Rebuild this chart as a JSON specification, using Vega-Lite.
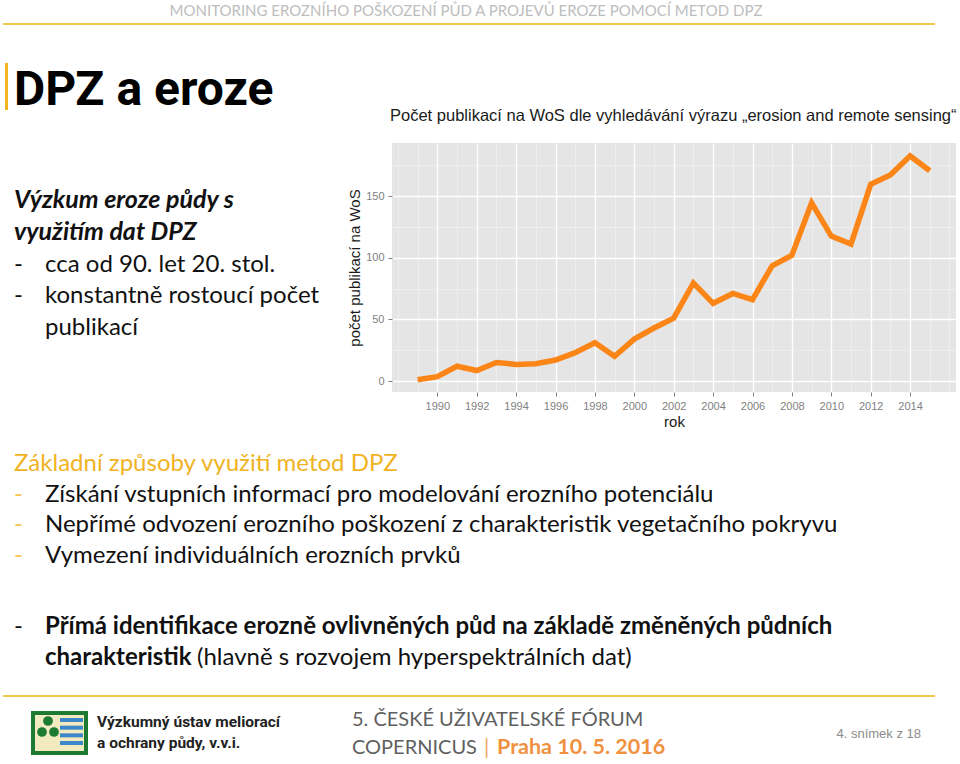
{
  "$schema": "https://vega.github.io/schema/vega-lite/v6.json",
  "background": "white",
  "padding": 0,
  "spacing": 0,
  "bounds": "flush",
  "columns": 2,
  "config": {"view": {"stroke": null}},
  "datasets": {
    "pubs": [
      {"rok": 1989, "pocet": 1}, {"rok": 1990, "pocet": 3.5}, {"rok": 1991, "pocet": 12},
      {"rok": 1992, "pocet": 8.5}, {"rok": 1993, "pocet": 15}, {"rok": 1994, "pocet": 13.5},
      {"rok": 1995, "pocet": 14}, {"rok": 1996, "pocet": 17}, {"rok": 1997, "pocet": 23},
      {"rok": 1998, "pocet": 31}, {"rok": 1999, "pocet": 20}, {"rok": 2000, "pocet": 34},
      {"rok": 2001, "pocet": 43}, {"rok": 2002, "pocet": 51}, {"rok": 2003, "pocet": 79.5},
      {"rok": 2004, "pocet": 63}, {"rok": 2005, "pocet": 71}, {"rok": 2006, "pocet": 66},
      {"rok": 2007, "pocet": 93.5}, {"rok": 2008, "pocet": 102}, {"rok": 2009, "pocet": 144.5},
      {"rok": 2010, "pocet": 117.5}, {"rok": 2011, "pocet": 111}, {"rok": 2012, "pocet": 159.5},
      {"rok": 2013, "pocet": 167}, {"rok": 2014, "pocet": 182.5}, {"rok": 2015, "pocet": 170.5}
    ],
    "top": [
      {"col": 1, "line": 0, "role": "running", "text": "MONITORING EROZNÍHO POŠKOZENÍ PŮD A PROJEVŮ EROZE POMOCÍ METOD DPZ"},
      {"col": 0, "line": 1, "role": "slide", "text": "DPZ a eroze"}
    ],
    "left": [
      {"line": 1, "col": 0, "role": "lead", "text": "Výzkum eroze půdy s"},
      {"line": 2, "col": 0, "role": "lead", "text": "využitím dat DPZ"},
      {"line": 3, "col": 0, "role": "item", "text": "-"},
      {"line": 3, "col": 1, "role": "item", "text": "cca od 90. let 20. stol."},
      {"line": 4, "col": 0, "role": "item", "text": "-"},
      {"line": 4, "col": 1, "role": "item", "text": "konstantně rostoucí počet"},
      {"line": 5, "col": 1, "role": "item", "text": "publikací"}
    ],
    "methods": [
      {"line": 1, "col": 0, "role": "heading", "text": "Základní způsoby využití metod DPZ"},
      {"line": 2, "col": 0, "role": "dash", "text": "-"},
      {"line": 2, "col": 1, "role": "item", "text": "Získání vstupních informací pro modelování erozního potenciálu"},
      {"line": 3, "col": 0, "role": "dash", "text": "-"},
      {"line": 3, "col": 1, "role": "item", "text": "Nepřímé odvození erozního poškození z charakteristik vegetačního pokryvu"},
      {"line": 4, "col": 0, "role": "dash", "text": "-"},
      {"line": 4, "col": 1, "role": "item", "text": "Vymezení individuálních erozních prvků"},
      {"line": 6, "col": 0, "role": "item", "text": "-"},
      {"line": 6, "col": 1, "role": "key", "text": "Přímá identifikace erozně ovlivněných půd na základě změněných půdních"},
      {"line": 7, "col": 1, "role": "key", "text": "charakteristik"},
      {"line": 7, "col": 2, "role": "item", "text": "(hlavně s rozvojem hyperspektrálních dat)"}
    ],
    "footer": [
      {"line": 1, "col": 0, "role": "inst", "text": "Výzkumný ústav meliorací"},
      {"line": 2, "col": 0, "role": "inst", "text": "a ochrany půdy, v.v.i."},
      {"line": 1, "col": 1, "role": "event", "text": "5. ČESKÉ UŽIVATELSKÉ FÓRUM"},
      {"line": 2, "col": 1, "role": "event", "text": "COPERNICUS"},
      {"line": 2, "col": 2, "role": "sep", "text": "|"},
      {"line": 2, "col": 3, "role": "place", "text": "Praha 10. 5. 2016"}
    ]
  },
  "concat": [
    {
      "width": 392,
      "height": 143,
      "resolve": {"scale": {"x": "independent", "y": "independent"}},
      "layer": [
        {
          "data": {"name": "top"},
          "transform": [{"filter": "datum.role == 'running'"}],
          "mark": {"type": "text", "align": "center", "baseline": "alphabetic", "font": "Lato", "fontSize": 15, "color": "#BDBDBD"},
          "encoding": {
            "x": {"field": "col", "type": "quantitative", "scale": {"domain": [0, 1], "range": [14, 466]}, "axis": null},
            "y": {"field": "line", "type": "quantitative", "scale": {"domain": [0, 1], "range": [16, 105]}, "axis": null},
            "text": {"field": "text"}
          }
        },
        {
          "data": {"name": "top"},
          "transform": [{"filter": "datum.role == 'slide'"}],
          "mark": {"type": "text", "align": "left", "baseline": "alphabetic", "font": "Roboto", "fontWeight": "bold", "fontSize": 48, "color": "#000000"},
          "encoding": {
            "x": {"field": "col", "type": "quantitative", "scale": {"domain": [0, 1], "range": [14, 466]}, "axis": null},
            "y": {"field": "line", "type": "quantitative", "scale": {"domain": [0, 1], "range": [16, 105]}, "axis": null},
            "text": {"field": "text"}
          }
        },
        {
          "data": {"values": [{"element": "header rule"}]},
          "mark": {"type": "rule", "color": "#F2C94C", "strokeWidth": 2},
          "encoding": {
            "x": {"datum": 0, "type": "quantitative", "scale": {"domain": [0, 1], "range": [3, 935]}, "axis": null},
            "x2": {"datum": 1},
            "y": {"datum": 0, "type": "quantitative", "scale": {"domain": [0, 1], "range": [24, 110]}, "axis": null}
          }
        },
        {
          "data": {"values": [{"element": "title bar"}]},
          "mark": {"type": "rule", "color": "#F2B620", "strokeWidth": 3},
          "encoding": {
            "x": {"datum": 0, "type": "quantitative", "scale": {"domain": [0, 1], "range": [6.5, 14]}, "axis": null},
            "y": {"datum": 0, "type": "quantitative", "scale": {"domain": [0, 1], "range": [63, 110]}, "axis": null},
            "y2": {"datum": 1}
          }
        }
      ]
    },
    {
      "width": 564,
      "height": 143,
      "data": {"values": []},
      "mark": "rule",
      "encoding": {}
    },
    {
      "width": 392,
      "height": 249,
      "data": {"name": "left"},
      "encoding": {
        "x": {"field": "col", "type": "quantitative", "scale": {"domain": [0, 1], "range": [14, 45]}, "axis": null},
        "y": {"field": "line", "type": "quantitative", "scale": {"domain": [1, 5], "range": [65, 192]}, "axis": null},
        "text": {"field": "text"}
      },
      "layer": [
        {
          "transform": [{"filter": "datum.role == 'lead'"}],
          "mark": {"type": "text", "align": "left", "baseline": "alphabetic", "font": "Lato", "fontSize": 25, "fontStyle": "italic", "fontWeight": "bold", "color": "#111111"}
        },
        {
          "transform": [{"filter": "datum.role == 'item'"}],
          "mark": {"type": "text", "align": "left", "baseline": "alphabetic", "font": "Lato", "fontSize": 24, "color": "#111111"}
        }
      ]
    },
    {
      "width": 564,
      "height": 249,
      "view": {"fill": "#E5E5E5", "stroke": null},
      "title": {
        "text": "Počet publikací na WoS dle vyhledávání výrazu „erosion and remote sensing“",
        "anchor": "start",
        "frame": "group",
        "font": "Liberation Sans",
        "fontSize": 16.5,
        "fontWeight": "normal",
        "color": "#1A1A1A",
        "offset": 19,
        "dx": -2
      },
      "data": {"name": "pubs"},
      "mark": {"type": "line", "color": "#FB8517", "strokeWidth": 5.5, "strokeJoin": "miter", "strokeCap": "butt"},
      "encoding": {
        "x": {
          "field": "rok",
          "type": "quantitative",
          "scale": {"domain": [1987.7, 2016.33], "nice": false, "zero": false},
          "axis": {
            "values": [1988, 1989, 1990, 1991, 1992, 1993, 1994, 1995, 1996, 1997, 1998, 1999, 2000, 2001, 2002, 2003, 2004, 2005, 2006, 2007, 2008, 2009, 2010, 2011, 2012, 2013, 2014, 2015, 2016],
            "format": "d",
            "labelExpr": "(datum.value % 2 == 0 && datum.value >= 1990 && datum.value <= 2014) ? datum.label : ''",
            "labelOverlap": false,
            "labelFont": "Liberation Sans",
            "labelFontSize": 11,
            "labelColor": "#7F7F7F",
            "labelPadding": 4,
            "domain": false,
            "ticks": true,
            "tickSize": 4,
            "tickColor": {"condition": {"test": "datum.value % 2 == 0 && datum.value >= 1990 && datum.value <= 2014", "value": "#7F7F7F"}, "value": "rgba(0,0,0,0)"},
            "grid": true,
            "gridColor": {"condition": {"test": "datum.value % 2 == 0 && datum.value >= 1990 && datum.value <= 2014", "value": "#FFFFFF"}, "value": "#F2F2F2"},
            "gridWidth": {"condition": {"test": "datum.value % 2 == 0 && datum.value >= 1990 && datum.value <= 2014", "value": 1.3}, "value": 0.7},
            "title": "rok",
            "titleFont": "Liberation Sans",
            "titleFontSize": 15,
            "titleFontWeight": "normal",
            "titleColor": "#1A1A1A",
            "titlePadding": 3
          }
        },
        "y": {
          "field": "pocet",
          "type": "quantitative",
          "scale": {"domain": [-8.9, 193], "nice": false, "zero": false},
          "axis": {
            "values": [0, 25, 50, 75, 100, 125, 150, 175],
            "labelExpr": "datum.value % 50 == 0 ? datum.label : ''",
            "labelOverlap": false,
            "labelFont": "Liberation Sans",
            "labelFontSize": 11,
            "labelColor": "#7F7F7F",
            "labelPadding": 4,
            "domain": false,
            "ticks": true,
            "tickSize": 4,
            "tickColor": {"condition": {"test": "datum.value % 50 == 0", "value": "#7F7F7F"}, "value": "rgba(0,0,0,0)"},
            "grid": true,
            "gridColor": {"condition": {"test": "datum.value % 50 == 0", "value": "#FFFFFF"}, "value": "#F2F2F2"},
            "gridWidth": {"condition": {"test": "datum.value % 50 == 0", "value": 1.3}, "value": 0.7},
            "title": "počet publikací na WoS",
            "titleFont": "Liberation Sans",
            "titleFontSize": 15,
            "titleFontWeight": "normal",
            "titleColor": "#1A1A1A",
            "titlePadding": 3
          }
        }
      }
    },
    {
      "width": 392,
      "height": 372,
      "resolve": {"scale": {"x": "independent", "y": "independent"}},
      "layer": [
        {
          "data": {"name": "methods"},
          "transform": [{"filter": "datum.role == 'heading'"}],
          "mark": {"type": "text", "align": "left", "baseline": "alphabetic", "font": "Lato", "fontSize": 24, "color": "#F0B323"},
          "encoding": {
            "x": {"field": "col", "type": "quantitative", "scale": {"domain": [0, 1, 2], "range": [14, 45, 197]}, "axis": null},
            "y": {"field": "line", "type": "quantitative", "scale": {"domain": [1, 4, 6, 7], "range": [79, 171, 242, 273]}, "axis": null},
            "text": {"field": "text"}
          }
        },
        {
          "data": {"name": "methods"},
          "transform": [{"filter": "datum.role == 'dash'"}],
          "mark": {"type": "text", "align": "left", "baseline": "alphabetic", "font": "Lato", "fontSize": 24, "color": "#F4C44A"},
          "encoding": {
            "x": {"field": "col", "type": "quantitative", "scale": {"domain": [0, 1, 2], "range": [14, 45, 197]}, "axis": null},
            "y": {"field": "line", "type": "quantitative", "scale": {"domain": [1, 4, 6, 7], "range": [79, 171, 242, 273]}, "axis": null},
            "text": {"field": "text"}
          }
        },
        {
          "data": {"name": "methods"},
          "transform": [{"filter": "datum.role == 'item'"}],
          "mark": {"type": "text", "align": "left", "baseline": "alphabetic", "font": "Lato", "fontSize": 24, "color": "#111111"},
          "encoding": {
            "x": {"field": "col", "type": "quantitative", "scale": {"domain": [0, 1, 2], "range": [14, 45, 197]}, "axis": null},
            "y": {"field": "line", "type": "quantitative", "scale": {"domain": [1, 4, 6, 7], "range": [79, 171, 242, 273]}, "axis": null},
            "text": {"field": "text"}
          }
        },
        {
          "data": {"name": "methods"},
          "transform": [{"filter": "datum.role == 'key'"}],
          "mark": {"type": "text", "align": "left", "baseline": "alphabetic", "font": "Lato", "fontSize": 24, "fontWeight": "bold", "color": "#111111"},
          "encoding": {
            "x": {"field": "col", "type": "quantitative", "scale": {"domain": [0, 1, 2], "range": [14, 45, 197]}, "axis": null},
            "y": {"field": "line", "type": "quantitative", "scale": {"domain": [1, 4, 6, 7], "range": [79, 171, 242, 273]}, "axis": null},
            "text": {"field": "text"}
          }
        },
        {
          "data": {"values": [{"element": "footer rule"}]},
          "mark": {"type": "rule", "color": "#F2C94C", "strokeWidth": 2},
          "encoding": {
            "x": {"datum": 0, "type": "quantitative", "scale": {"domain": [0, 1], "range": [3, 935]}, "axis": null},
            "x2": {"datum": 1},
            "y": {"datum": 0, "type": "quantitative", "scale": {"domain": [0, 1], "range": [304, 372]}, "axis": null}
          }
        },
        {
          "data": {"values": [{"element": "logo frame"}]},
          "mark": {"type": "rect", "color": "#1C7A32"},
          "encoding": {
            "x": {"datum": 0, "type": "quantitative", "scale": {"domain": [0, 1], "range": [31, 88]}, "axis": null},
            "x2": {"datum": 1},
            "y": {"datum": 0, "type": "quantitative", "scale": {"domain": [0, 1], "range": [319, 363]}, "axis": null},
            "y2": {"datum": 1}
          }
        },
        {
          "data": {"values": [{"element": "logo field"}]},
          "mark": {"type": "rect", "color": "#F3EBC0"},
          "encoding": {
            "x": {"datum": 0, "type": "quantitative", "scale": {"domain": [0, 1], "range": [35, 84]}, "axis": null},
            "x2": {"datum": 1},
            "y": {"datum": 0, "type": "quantitative", "scale": {"domain": [0, 1], "range": [323, 359]}, "axis": null},
            "y2": {"datum": 1}
          }
        },
        {
          "data": {"values": [{"wave": 1}, {"wave": 2}, {"wave": 3}, {"wave": 4}]},
          "mark": {"type": "rule", "color": "#3B87C9", "strokeWidth": 4},
          "encoding": {
            "x": {"datum": 0, "type": "quantitative", "scale": {"domain": [0, 1], "range": [60, 83]}, "axis": null},
            "x2": {"datum": 1},
            "y": {"field": "wave", "type": "quantitative", "scale": {"domain": [1, 4], "range": [328, 351]}, "axis": null}
          }
        },
        {
          "data": {"values": [{"dot": 1}, {"dot": 2}, {"dot": 3}]},
          "mark": {"type": "point", "filled": true, "color": "#1C7A32", "opacity": 1, "size": 95},
          "encoding": {
            "x": {"field": "dot", "type": "quantitative", "scale": {"domain": [1, 2, 3], "range": [42, 48, 54]}, "axis": null},
            "y": {"field": "dot", "type": "quantitative", "scale": {"domain": [1, 2, 3], "range": [340, 329, 340]}, "axis": null}
          }
        },
        {
          "data": {"name": "footer"},
          "transform": [{"filter": "datum.role == 'inst'"}],
          "mark": {"type": "text", "align": "left", "baseline": "alphabetic", "font": "Roboto", "fontWeight": "bold", "fontSize": 15.5, "color": "#222222"},
          "encoding": {
            "x": {"field": "col", "type": "quantitative", "scale": {"domain": [0, 1, 2, 3], "range": [97, 352, 484, 497]}, "axis": null},
            "y": {"field": "line", "type": "quantitative", "scale": {"domain": [1, 2], "range": [335, 356]}, "axis": null},
            "text": {"field": "text"}
          }
        },
        {
          "data": {"name": "footer"},
          "transform": [{"filter": "datum.role == 'event'"}],
          "mark": {"type": "text", "align": "left", "baseline": "alphabetic", "font": "Lato", "fontSize": 20, "color": "#5F5F5F"},
          "encoding": {
            "x": {"field": "col", "type": "quantitative", "scale": {"domain": [0, 1, 2, 3], "range": [97, 352, 484, 497]}, "axis": null},
            "y": {"field": "line", "type": "quantitative", "scale": {"domain": [1, 2], "range": [334, 362]}, "axis": null},
            "text": {"field": "text"}
          }
        },
        {
          "data": {"name": "footer"},
          "transform": [{"filter": "datum.role == 'sep'"}],
          "mark": {"type": "text", "align": "left", "baseline": "alphabetic", "font": "Lato", "fontSize": 21, "color": "#F5A55E"},
          "encoding": {
            "x": {"field": "col", "type": "quantitative", "scale": {"domain": [0, 1, 2, 3], "range": [97, 352, 484, 497]}, "axis": null},
            "y": {"field": "line", "type": "quantitative", "scale": {"domain": [1, 2], "range": [334, 362]}, "axis": null},
            "text": {"field": "text"}
          }
        },
        {
          "data": {"name": "footer"},
          "transform": [{"filter": "datum.role == 'place'"}],
          "mark": {"type": "text", "align": "left", "baseline": "alphabetic", "font": "Lato", "fontSize": 21.5, "fontWeight": "bold", "color": "#F0913F"},
          "encoding": {
            "x": {"field": "col", "type": "quantitative", "scale": {"domain": [0, 1, 2, 3], "range": [97, 352, 484, 497]}, "axis": null},
            "y": {"field": "line", "type": "quantitative", "scale": {"domain": [1, 2], "range": [334, 362]}, "axis": null},
            "text": {"field": "text"}
          }
        },
        {
          "data": {"values": [{"slide": 4, "total": 18}]},
          "mark": {"type": "text", "align": "right", "baseline": "alphabetic", "font": "Liberation Sans", "fontSize": 13, "color": "#8A8A8A"},
          "encoding": {
            "x": {"datum": 1, "type": "quantitative", "scale": {"domain": [0, 1], "range": [826, 921]}, "axis": null},
            "y": {"datum": 1, "type": "quantitative", "scale": {"domain": [0, 1], "range": [0, 346]}, "axis": null},
            "text": {"value": "4. snímek z 18"}
          }
        }
      ]
    }
  ]
}
